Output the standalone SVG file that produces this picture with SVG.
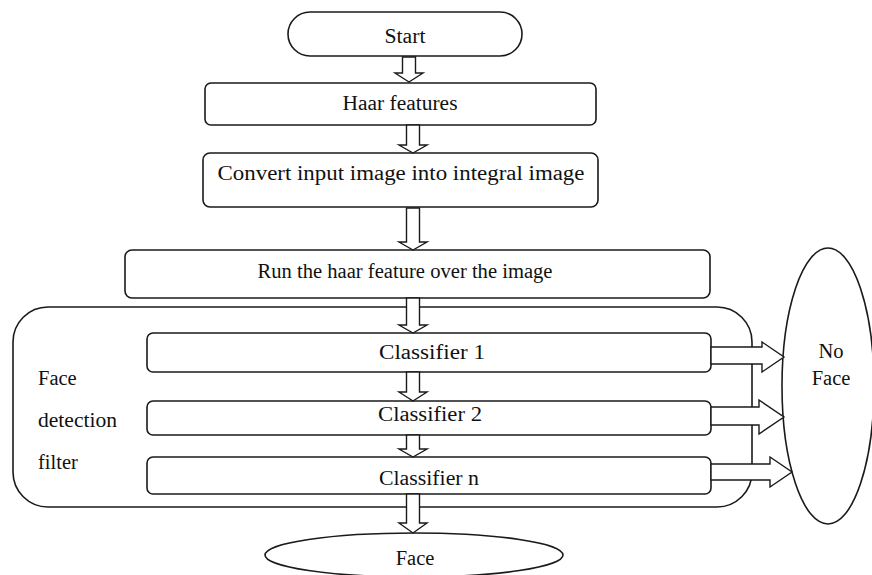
<svg xmlns="http://www.w3.org/2000/svg" width="872" height="575" viewBox="0 0 872 575">
<style>
.s{fill:#fff;stroke:#1a1a1a;stroke-width:1.6}
.t{font-family:'Liberation Serif','Tinos','DejaVu Serif','Times New Roman',serif;font-size:20.5px;fill:#111;text-anchor:middle}
.l{font-family:'Liberation Serif','Tinos','DejaVu Serif','Times New Roman',serif;font-size:20.5px;fill:#111}
.a{fill:#fff;stroke:#1a1a1a;stroke-width:1.4;stroke-linejoin:miter}
</style>
<rect width="872" height="575" fill="#fff"/>
<g id="container">
<rect class="s" x="13" y="307" width="739" height="200" rx="35" ry="35"/>
<text class="l" x="38" y="385">Face</text>
<text class="l" x="38" y="427" textLength="79" lengthAdjust="spacingAndGlyphs">detection</text>
<text class="l" x="38" y="469">filter</text>
</g>
<g id="start">
<rect class="s" x="288" y="12" width="234" height="44" rx="22" ry="22"/>
<text class="t" x="405" y="43" textLength="41" lengthAdjust="spacingAndGlyphs">Start</text>
</g>
<g id="haar">
<rect class="s" x="205" y="83" width="391" height="42" rx="6"/>
<text class="t" x="400" y="110" textLength="115" lengthAdjust="spacingAndGlyphs">Haar features</text>
</g>
<g id="convert">
<rect class="s" x="203" y="153" width="395" height="54" rx="7"/>
<text class="t" x="401" y="180" textLength="367" lengthAdjust="spacingAndGlyphs">Convert input image into integral image</text>
</g>
<g id="run">
<rect class="s" x="125" y="250" width="585" height="48" rx="7"/>
<text class="t" x="405" y="278" textLength="295" lengthAdjust="spacingAndGlyphs">Run the haar feature over the image</text>
</g>
<g id="classifier1">
<rect class="s" x="147" y="333" width="564" height="39" rx="6"/>
<text class="t" x="432" y="359" textLength="106" lengthAdjust="spacingAndGlyphs">Classifier 1</text>
</g>
<g id="classifier2">
<rect class="s" x="147" y="401" width="564" height="34" rx="6"/>
<text class="t" x="430" y="421" textLength="104" lengthAdjust="spacingAndGlyphs">Classifier 2</text>
</g>
<g id="classifiern">
<rect class="s" x="147" y="457" width="564" height="37" rx="6"/>
<text class="t" x="429" y="485" textLength="100" lengthAdjust="spacingAndGlyphs">Classifier n</text>
</g>
<g id="noface">
<ellipse class="s" cx="828" cy="386" rx="46" ry="138"/>
<text class="t" x="831" y="358">No</text>
<text class="t" x="831" y="385">Face</text>
</g>
<g id="face">
<ellipse class="s" cx="414" cy="555" rx="149" ry="22"/>
<text class="t" x="415" y="565">Face</text>
</g>
<g id="connectors">
<path class="a" d="M402.5 57 V73 H395 L409 82 L423 73 H415.5 V57 Z"/>
<path class="a" d="M406.5 125 V145 H399 L413 153 L427 145 H419.5 V125 Z"/>
<path class="a" d="M406.5 208 V242 H399 L413 250 L427 242 H419.5 V208 Z"/>
<path class="a" d="M406.5 298 V325 H399 L413 333 L427 325 H419.5 V298 Z"/>
<path class="a" d="M406.5 372 V392 H399 L413 401 L427 392 H419.5 V372 Z"/>
<path class="a" d="M406.5 435 V449 H399 L413 457 L427 449 H419.5 V435 Z"/>
<path class="a" d="M406.5 494 V523 H399 L413 533 L427 523 H419.5 V494 Z"/>
<path class="a" d="M711 347 H762 V342 L784 357 L762 372 V364 H711 Z"/>
<path class="a" d="M711 407 H759 V400 L784 417 L759 434 V425 H711 Z"/>
<path class="a" d="M711 464 H770 V457 L792 472 L770 487 V480 H711 Z"/>
</g>
</svg>
